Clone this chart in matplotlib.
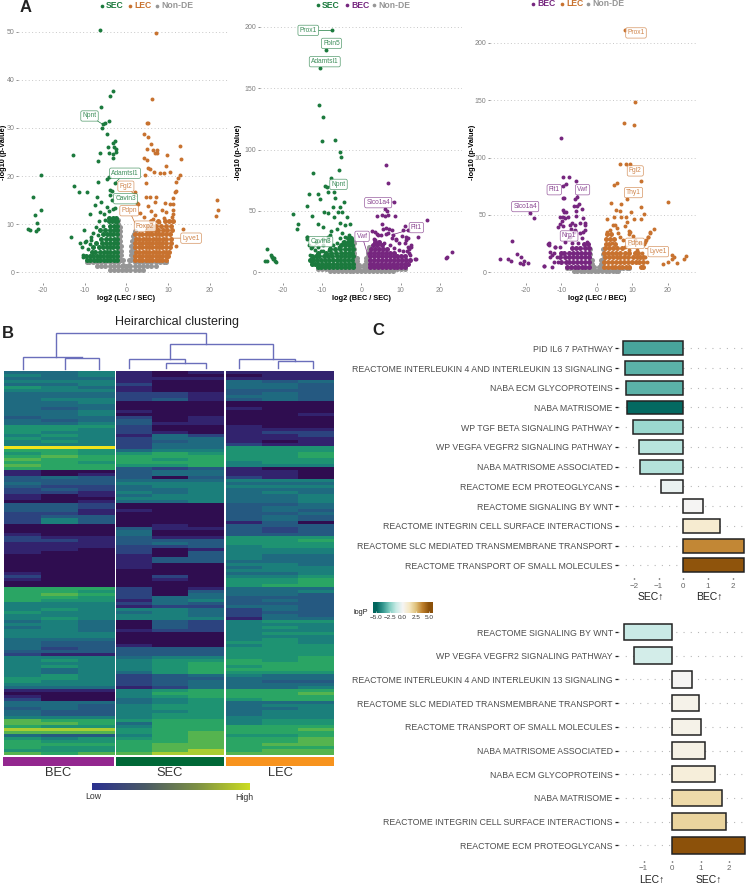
import numpy as np
import matplotlib
matplotlib.use("Agg")
import matplotlib.pyplot as plt
from matplotlib.colors import LinearSegmentedColormap

plt.rcParams['font.family'] = ['Liberation Sans', 'DejaVu Sans']

W, H = 747, 885
GREEN, ORANGE, PURPLE, GREY = '#1b7a3d', '#c8722f', '#76267f', '#969696'

# ---------- panel A, points (log2 fc, -log10 p)
sec1_sparse = [(-6.2,50.3),(-3.3,37.7),(-3.8,36.7),(-6.1,34.4),(-4.1,31.5),(-5.1,31.1),(-5.6,30.9),(-5.9,29.9),
    (-4.5,28.8),(-2.8,27.3),(-3.3,26.8),(-4.4,26.1),(-3,26.1),(-2.5,25.6),(-4.1,24.7),(-3.3,24.6),(-2.5,25),
    (-6.3,24.7),(-12.8,24.3),(-6.7,23.1),(-3.1,23.7),(-20.4,20.2),(-4.1,19.9),(-4.7,19.5),(-2.7,18.6),(-6.8,18.7),
    (-12.5,18),(-11.2,16.6),(-9.3,16.6),(-3.9,17.1),(-3.5,16.8),(-3.8,16),(-6.9,15.7),(-22.3,15.7),(-3.5,15),
    (-7.5,13.9),(-6.1,14.6),(-20.3,13),(-2.7,13.4),(-3.1,13.2),(-21.9,11.9),(-8.7,12.2),(-6.3,12.6),(-4.2,12.7),(-21.4,10.2),
    (-21.2,8.9),(-21.6,8.6),(-23.4,8.9),(-23.1,8.8),(-10.1,8.8),(-13.2,7.3),(-11.1,6),(-10,6.4),(-9.6,6.6),
    (-10.5,5.2),(-8.5,7.4),(-8.4,6.7),(-10.4,3.6),(-10.3,3.1),(-6.6,10.6),(-7.2,9.4),(-5.2,10.9),(-5.6,9.6),
    (-8.6,5.9),(-7.9,8.2),(-6.8,7.7),(-9.2,4.9),(-5.4,12.1),(-4.7,13.6)]
sec1_rows = {2.6: [-2.2,-3,-3.8,-4.6,-5.4,-6.2,-7,-7.8,-8.6,-9.3],
    3.4: [-2.2,-3.1,-3.9,-4.7,-5.5,-6.3,-7.1,-7.9,-8.7,-9.6],
    4.3: [-2.2,-3,-3.8,-4.6,-5.4,-6.4,-7.4,-8.3],
    5.2: [-2.3,-3.1,-3.9,-4.7,-5.5,-6.6,-8],
    6.1: [-2.2,-3,-3.8,-4.8,-5.8,-7.2],
    7: [-2.2,-3,-3.8,-4.8,-6.1],
    7.9: [-2.3,-3.1,-3.8,-4.6,-5.6],
    8.8: [-2.2,-3,-3.9,-5,-6.2],
    9.7: [-2.2,-3,-4],
    10.6: [-2.3,-2.8,-3.4,-4.1],
    11.3: [-2.4,-3.3,-4.2]}
lec1_sparse = [(7.1,49.8),(6.1,36),(5,31.1),(5.3,31),(4.3,28.7),(5.2,28.1),(5.9,26.7),(4.9,25.7),(6.5,25.4),(7.4,25.4),
    (6.9,24.8),(7.3,24.9),(12.8,26.3),(9.7,24.4),(13.1,23.5),(4.2,23.7),(4.9,23.4),(9.4,22),(5.3,21.6),(5.7,21.5),
    (6.6,20.8),(8.1,20.6),(8.9,20.7),(10.5,20.8),(4.5,20.2),(12.8,20.2),(12.3,19.7),(12,18.7),(4.6,18.6),(2.2,16.6),
    (11.8,17),(11.6,16.6),(5.7,15.7),(7,15.6),(4.6,15.6),(11.1,15.4),(2.9,14.3),(6.9,14.6),(9.3,14.5),(11.2,14.2),
    (5.3,13.7),(5.8,12.8),(8.5,13),(9.4,12.6),(11.1,13),(6.9,11.9),(3.3,12.4),(11.2,12.1),(11,11.4),(10.9,10.7),
    (21.6,15),(22,13),(21.4,11.7),(13.6,8.9),(12,5.4),(4.3,11.5),(6.4,11),(8.9,11.2),(2.6,14.4),(10.5,14.1),(7.9,10.4)]
lec1_rows = {2.6: [2.2,3,3.8,4.6,5.4,6.2,7,7.8,8.6,9.6],
    3.4: [2.2,3,3.8,4.6,5.4,6.2,7,7.8,8.6,9.4,10],
    4.3: [2.3,3.1,3.9,4.7,5.5,6.3,7.1,7.9,8.7,9.5,10.2],
    5.2: [2.2,3,3.8,4.6,5.4,6.2,7,7.8,8.6,9.4,10.5],
    6.1: [2.2,3,3.8,4.6,5.4,6.2,7,7.8,8.6,9.5,10.6],
    7: [2.3,3.1,3.9,4.7,5.5,6.3,7.1,7.9,8.7,9.6,10.8],
    7.9: [2.2,3,3.8,4.6,5.4,6.2,7,7.8,8.6,9.5,10.4],
    8.8: [5,5.9,6.8,7.7,8.8,9.8,11],
    9.7: [5.1,6.1,7.2,8.4,9.6,10.8],
    10.6: [6,7.7,9.3,10.3,11.2]}
grey1_rows = {2.2: [-9.5,-9,-8,-7,-6,-5,-4,-3,-2,2,3,4,5,6,7,8,9,9.5],
    1.3: [-7,-6,-5,-4,-3,-2,-1,0,1,2,3,4,5,6,7],
    .4: [-4,-3,-2,-1,0,1,2,3,4]}
grey1_wing = [(-1.8,3),(-1.8,4),(-1.8,5),(-1.8,6),(-1.8,7),(-1.8,8),(-1.8,9),(-1.9,10),(-2,10.8),(-1.2,2.5),(-1.2,3.5),(-1.2,4.5),(-1.2,5.5),
    (-1.4,6.5),(-1.4,7.5),(-1.5,8.5),(-1.5,9.5),(-.7,1.5),(-.7,2.5),(1.8,3),(1.8,4),(1.8,5),(1.8,6),(1.9,7),(1.9,8),(2,8.5),(1.2,2.5),(1.2,3.5),(1.2,4.5),(1.2,5.5),
    (1.4,6.5),(1.5,7.5),(.7,1.5),(.7,2.5),(0,.6)]

sec2_sparse = [(-7.5,197),(-8.9,181),(-10.6,166),(-10.8,136),(-9.8,126.7),(-9.9,107),(-6.8,107.7),(-5.4,98),(-5.1,94),
    (-5.8,83.6),(-12.4,80.9),(-7.6,77),(-9.3,70.6),(-8.7,69.7),(-8.4,65),(-7,65),(-13.2,64),(-11.1,64),(-10.6,59.4),
    (-6.6,60.8),(-4.5,57),(-13.8,54.3),(-7.1,53.5),(-5.3,52.9),(-9.4,48.8),(-8.6,48),(-5.9,49),(-4.9,48.8),(-17.4,47.2),
    (-12.5,45.6),(-6.9,45.3),(-3.7,44.8),(-16,39.4),(-16.3,35),(-11.1,39.4),(-9.7,37.2),(-7.7,33.6),(-5.4,39.9),(-4.2,38.5),
    (-2.9,39.4),(-13.9,29),(-13.7,27.4),(-23.9,19.3),(-23,14.1),(-22.6,12.2),(-22.4,10.6),(-22,9.2),(-21.7,8.4),(-24.4,9.2),
    (-24.1,9),(-22.8,12.8),(-22.2,11.5),(-12.6,6.8),(-6.1,35),(-8.4,29),(-11.5,25),(-13.2,22),(-12.8,20),(-9.8,27),
    (-4.9,31.8),(-4.1,29),(-3.2,30.5),(-5.4,27.7),(-2.4,26.4),(-3.2,25),(-4.6,25),(-6.3,23.7),(-5.6,21),(-7.1,22.3),
    (-7.9,30.6),(-8.7,26.4),(-9.7,22.3),(-10.9,21),(-11.8,18.3),(-12.6,21),(-13,14),(-12.6,7.3),(-12.2,11.5),(-10.2,17),
    (-7.9,19.6),(-9.7,17),(-8.3,18.3),(-13.9,28.5)]
sec2_rows = {4: [-2.2,-3.2,-4.2,-5.2,-6.2,-7.2,-8.2,-9.2,-10.2,-11],
    7: [-2.2,-3.1,-4.1,-5.1,-6.1,-7.1,-8.1,-9.1,-10.1,-11.1,-11.9,-12.5],
    10: [-2.3,-3.3,-4.3,-5.3,-6.3,-7.3,-8.3,-9.3,-10.3,-11.3,-12.2,-13],
    13: [-2.2,-3.2,-4.2,-5.2,-6.2,-7.4,-8.4,-9.6,-10.8,-11.6,-12.5],
    16: [-2.3,-3.2,-4.2,-5.2,-6.4,-7.6,-9,-11],
    19: [-2.2,-3.2,-4.2,-5.3,-6.6,-8],
    22: [-2.3,-3.2,-4.2,-5.2],
    25: [-2.5,-3.4,-4.3],
    28: [-2.6,-3.5]}
bec2_sparse = [(6.4,87.7),(6.7,73),(8.2,57.3),(6.1,51.3),(6.5,50.2),(6.7,46.7),(6,46.1),(4,45.6),(5.3,46.7),(8.6,45.9),
    (16.7,42.3),(5.3,39),(11,38),(6.4,35.8),(7.1,35),(7.7,34.5),(8.1,30.4),(12,34.5),(14.5,29),(10.7,34.5),(4,31.5),
    (2.8,33.7),(3.3,27),(21.9,12.2),(21.6,11.4),(23.2,16.3),(13.6,10.9),(12.1,15.5),(12.6,21),(12.2,19),(11.6,17),
    (11.9,28),(11.5,26),(8.9,27),(9.7,24),(6.2,31),(5,30),
    (3.5,33),(4.3,30),(5.6,35),(6.9,31.8),(7.7,27.7),(8.9,26.4),(10.3,29.2),(11.1,23.7),(11.9,21),(12.7,22.3),(11.5,29),
    (8.3,19.6),(9.5,18.3),(10.7,17),(12.4,14.2),(13.8,10.5),(5.9,23.7),(4.6,25),(7.2,22.3),(3.5,26.4)]
bec2_rows = {4: [2.2,3.2,4.2,5.2,6.2,7.2,8.2,9.2,10.2,11],
    7: [2.2,3.1,4.1,5.1,6.1,7.1,8.1,9.1,10.1,11.1,12],
    10: [2.3,3.3,4.3,5.3,6.3,7.3,8.3,9.3,10.3,11.3,12.5],
    13: [2.2,3.2,4.2,5.2,6.2,7.2,8.2,9.2,10.1,11],
    16: [2.3,3.2,4.2,5.2,6.2,7.3,8.2],
    19: [2.5,3.6,4.5,5.6,6.5],
    22: [3,4.1,5.2],
    25: [3.5,4.5]}
grey2_rows = {3: [-11,-10,-9,-8,-7,-6,-5,-4,-3,-2,2,3,4,5,6,7,8,9,10,11],
    1: [-8,-7,-6,-5,-4,-3,-2,-1,0,1,2,3,4,5,6,7,8]}
grey2_wing = [(-1.8,4),(-1.8,7),(-1.8,10),(-1.8,13),(-1.8,16),(-1.9,19),(-2,21),(-1.9,24),(-1.2,3),(-1.2,6),(-1.2,9),(-1.2,12),(-.7,2),(-.7,4),(-.7,6),
    (1.8,4),(1.8,7),(1.8,10),(1.8,13),(1.8,16),(1.9,19),(2,21),(1.2,3),(1.2,6),(1.2,9),(1.2,12),(.7,2),(.7,4),(.7,6)]

bec3_sparse = [(-10.2,116.9),(-9.6,82.8),(-7.8,82.8),(-8.8,76.7),(-9.4,75.6),(-5.8,79.4),(-5.6,66),(-6.1,64),(-9.6,64.8),
    (-9.2,64.6),(-5,59.6),(-6.4,58),(-5.5,58),(-4.2,55),(-5.8,53.8),(-9.4,54.4),(-8.8,52.9),(-9.2,52.4),(-18.9,51.5),
    (-17.7,47),(-8,48.5),(-9.4,48.5),(-8.9,47),(-10.5,48),(-5.8,49.4),(-3.8,47),(-9.9,45),(-10.8,39.8),(-10.4,42),
    (-7.5,41),(-6.1,37),(-7.3,38),(-6,41),(-3.3,42.7),(-4.7,34),(-24,27.3),(-13.8,24.7),(-22.6,16),(-21.4,13.7),(-27.4,11.9),
    (-25,11.9),(-24.2,10.2),(-20.4,10.2),(-19.4,8.4),(-21.7,7.8),(-20.7,7),(-14.9,5.8),(-12.7,5),(-13.2,13),(-12.7,15),
    (-11.8,21.8),(-13.4,23.5),(-3.9,35),(-6.5,35),
    (-9.4,40),(-7.1,42.7),(-4.7,42.7),(-3.3,41.3),(-3.3,37),(-7.5,31),(-4.2,29.6),(-2.8,26.7),(-5.2,25.2),(-7.1,25.2),
    (-8.9,26.7),(-10.3,22),(-11.8,22),(-13.6,25.2),(-13.2,18),(-12.2,16.7),(-11.3,13.7),(-12.2,9.3),(-10.8,9.3),(-15,5.8)]
bec3_rows = {5: [-2.2,-3.2,-4.2,-5.2,-6.2,-7.2,-8.5],
    9: [-2.2,-3.3,-4.4,-5.5,-6.6,-7.7,-8.8,-10],
    13: [-2.3,-3.4,-4.5,-5.6,-6.7,-7.8,-8.9,-10.5],
    17: [-2.2,-3.3,-4.4,-5.5,-6.7,-7.9,-9.2,-10.2],
    21: [-2.3,-3.4,-4.6,-5.8,-7.1],
    25: [-2.5,-3.6]}
lec3_sparse = [(8,211),(10.7,148.8),(7.7,130),(10.6,128.5),(6.5,94),(8.2,94.8),(9.5,94.5),(12.5,80),(5.7,78),(5,76.5),
    (8.6,64),(20,61),(4.1,60.8),(6.9,59.6),(12.4,57),(5.4,54.4),(6.6,53.2),(9.6,52.9),(13.4,51),(10.6,46.2),(12.5,46.5),
    (3,46.5),(5,48),(7,48),(8.4,48.4),(4.7,41),(16.2,38),(9,36),(8,40),(21.4,15),(21.2,12),(25.1,14),(24.7,11.6),
    (22.6,8.4),(20.2,9.3),(18.6,7),(21.8,13),(15,34),(14.5,31),(14,28),(13.5,25),(8.7,44),(9.2,33),(10.2,32),
    (2.8,35.4),(3.8,36.9),(5.2,41.3),(5.6,38.3),(6.1,34),(6.6,31),(7.5,28),(9.4,35.4),(10.8,28),(12.2,25.2),(13.6,26.7),
    (14.6,31),(15,35.4),(11.3,19.6),(12.7,16.7),(13.6,13.7),(14.1,9.3),(4.2,25.2),(9,19.6),(8.1,22)]
lec3_rows = {5: [2.2,3.2,4.2,5.2,6.2,7.2,8.2,9,12.6,13.2],
    9: [2.2,3.3,4.4,5.5,6.6,7.7,8.8,10,11.1,12,13],
    13: [2.3,3.4,4.5,5.6,6.7,7.8,8.9,10.3,11.4,12.2,13],
    17: [2.2,3.3,4.4,5.5,6.7,7.9,9,10.8,11.8],
    21: [2.3,3.4,4.6,5.8,7.1],
    25: [2.5,3.6,5.1],
    29: [2.6,3.8,5],
    33: [3,4.1]}
grey3_rows = {4: [-8.5,-7.5,-6.5,-5.5,-4.5,-3.5,-2.5,2.5,3.5,4.5,5.5,6.5,7.5,8.5,9],
    1: [-6.5,-5.5,-4.5,-3.5,-2.5,-1.5,-.5,.5,1.5,2.5,3.5,4.5,5.5,6]}
grey3_wing = [(-1.8,4),(-1.8,8),(-1.8,12),(-1.8,16),(-1.9,20),(-1.2,3),(-1.2,7),(-1.2,11),(-.7,2),(-.7,5),(1.8,4),(1.8,8),(1.8,12),(1.8,16),(1.9,20),(1.2,3),(1.2,7),(1.2,11),(.7,2),(.7,5)]

labels1 = [('Npnt',-8.8,32.5,-5.7,30.8,GREEN),('Adamtsl1',-.3,20.6,-2.7,18.6,GREEN),('Fgl2',-.1,17.9,2.5,15.7,ORANGE),
    ('Cavin3',-.2,15.3,-2.7,16,GREEN),('Pdpn',.7,12.8,2.1,10.2,ORANGE),('Foxp2',4.5,9.6,2.1,10.3,ORANGE),('Lyve1',15.5,7.1,10.4,7.1,ORANGE)]
labels2 = [('Prox1',-13.5,197,-7.5,197,GREEN),('Fbln5',-7.6,186.4,-8.9,181,GREEN),('Adamtsl1',-9.3,171.5,-10.6,166,GREEN),
    ('Npnt',-5.8,71.6,-8.7,69.7,GREEN),('Cavin3',-10.3,25,-12.2,21,GREEN),('Slco1a4',4.3,56.7,8.2,57.3,PURPLE),
    ('Vwf',.2,29.3,1.8,12.7,PURPLE),('Flt1',14,36.4,7.7,30.4,PURPLE)]
labels3 = [('Prox1',11.1,208.7,8,211,ORANGE),('Fgl2',10.9,88.4,9.4,94.5,ORANGE),('Thy1',10.4,69.5,8.6,64,ORANGE),
    ('Pdpn',10.8,25.3,8.5,22.4,ORANGE),('Lyve1',17.4,18,13.7,21,ORANGE),('Flt1',-12,72,-8.8,76.7,PURPLE),
    ('Vwf',-4,72,-5.6,66,PURPLE),('Slco1a4',-20.2,57.3,-18.9,51.5,PURPLE),('Nrp1',-7.8,31.7,-8.4,28,PURPLE)]

# ---------- panel B, heatmap rows (hex digit = level, one char per replicate)
bec_rows = ["445","545","444","555","445","654","555","444",
    "444","455","445","444","434","445","445","344",
    "434","445","666","665","655","565","655","565",
    "555","aaa","776","676","787","877","776","877",
    "777","100","101","343","333","433","322","232",
    "221","101","100","001","332","332","331","221",
    "233","253","253","000","000","000","100","211",
    "221","111","111","110","100","000","000","000",
    "000","000","000","100","200","100","000","000",
    "777","776","787","776","766","555",
    "555","565","655","555","565","454","554","454",
    "554","555","555","444","433","433","423","333",
    "211","555","565","555","565","545","545","565",
    "665","655","555","444","111","000","100","200",
    "444","443","343","433","433","555","877","887",
    "766","999","888","433","656","766","777","766",
    "666","878"]
sec_rows = ["101","100","111","100","200","100","100","221",
    "221","231","000","000","000","100","000","201",
    "301","311","200","200","210","142","244","234",
    "244","244","455","676","777","767","777","667",
    "323","344","344","303","444","555","455","445",
    "545","455","555","445","000","000","100","000",
    "000","000","000","010","311","400","400","311",
    "333","343","223","201","203","103","133","133",
    "100","100","000","000","020","010","000","000",
    "201","203","204","244","145","243",
    "122","554","454","554","555","032","032","032",
    "122","000","000","000","000","100","333","333",
    "333","455","566","567","567","567","467","234",
    "233","234","234","124","567","577","567","456",
    "456","566","566","556","566","566","677","477",
    "577","677","678","578","678","778","788","788",
    "789","899"]
lec_rows = ["111","011","111","434","443","443","333","343",
    "443","343","000","000","100","000","001","000",
    "000","000","100","111","122","112","111","101",
    "211","666","666","667","667","666","566","555",
    "100","110","110","210","555","444","555","444",
    "454","445","445","445","334","344","343","334",
    "343","343","130","333","323","323","333","666",
    "667","666","566","555","555","544","544","444",
    "554","455","555","445","556","667","667","677",
    "444","445","443","333","343","333",
    "443","243","233","243","144","566","555","565",
    "555","566","555","565","665","566","666","666",
    "666","667","767","777","677","777","666","544",
    "444","433","444","445","777","778","777","677",
    "444","455","445","455","455","555","566","566",
    "777","778","777","667","778","778","788","777",
    "788","888"]
group_names = ['BEC', 'SEC', 'LEC']
group_colors = ['#93278f', '#006837', '#f7931e']

# ---------- panel C
top_terms = ['PID IL6 7 PATHWAY','REACTOME INTERLEUKIN 4 AND INTERLEUKIN 13 SIGNALING','NABA ECM GLYCOPROTEINS',
    'NABA MATRISOME','WP TGF BETA SIGNALING PATHWAY','WP VEGFA VEGFR2 SIGNALING PATHWAY','NABA MATRISOME ASSOCIATED',
    'REACTOME ECM PROTEOGLYCANS','REACTOME SIGNALING BY WNT','REACTOME INTEGRIN CELL SURFACE INTERACTIONS',
    'REACTOME SLC MEDIATED TRANSMEMBRANE TRANSPORT','REACTOME TRANSPORT OF SMALL MOLECULES']
top_nes = [-2.43,-2.35,-2.33,-2.28,-2.03,-1.8,-1.75,-.92,.78,1.47,2.45,2.45]
top_logp = [-3.4,-3.1,-3.1,-4.9,-2,-1.5,-1.6,-.3,.05,.9,3.6,4.9]
bottom_terms = ['REACTOME SIGNALING BY WNT','WP VEGFA VEGFR2 SIGNALING PATHWAY','REACTOME INTERLEUKIN 4 AND INTERLEUKIN 13 SIGNALING',
    'REACTOME SLC MEDIATED TRANSMEMBRANE TRANSPORT','REACTOME TRANSPORT OF SMALL MOLECULES','NABA MATRISOME ASSOCIATED',
    'NABA ECM GLYCOPROTEINS','NABA MATRISOME','REACTOME INTEGRIN CELL SURFACE INTERACTIONS','REACTOME ECM PROTEOGLYCANS']
bottom_nes = [-1.7,-1.35,.71,.96,1,1.17,1.52,1.77,1.88,2.56]
bottom_logp = [-1.2,-.9,.05,.3,.35,.4,.7,1.7,1.9,5]

fig = plt.figure(figsize=(W/100, H/100), dpi=100)

def px_axes(l, t, r, b):
    return fig.add_axes([l/W, 1-b/H, (r-l)/W, (b-t)/H])

def px_text(x, y, s, **kw):
    kw.setdefault('ha', 'center')
    kw.setdefault('va', 'center')
    fig.text(x/W, 1-y/H, s, **kw)

def from_rows(rows):
    return [(x, y) for y, xs in rows.items() for x in xs]

def volcano(box, x0, sx, y0, sy, yticks, xlab, neg, pos, grey, labels):
    l, t, r, b = box
    ax = px_axes(l, t, r, b)
    ax.set_xlim((l-x0)/sx, (r-x0)/sx)
    ax.set_ylim((y0-b)/sy, (y0-t)/sy)
    g = np.array(grey).T
    ax.scatter(g[0], g[1], s=13, color=GREY, linewidths=0, zorder=2)
    for sparse, rows, col in (neg, pos):
        p = np.array(from_rows(rows)).T
        ax.scatter(p[0], p[1], s=13, color=col, linewidths=0, zorder=3)
        p = np.array(sparse).T
        ax.scatter(p[0], p[1], s=8, color=col, linewidths=0, zorder=3)
    for sp in ax.spines.values():
        sp.set_visible(False)
    ax.set_yticks(yticks)
    ax.set_xticks([-20, -10, 0, 10, 20])
    ax.set_xticklabels(['-20', '-10', '0', '10', '20'])
    ax.tick_params(labelsize=5, colors='#808080', length=1.2, width=.6, pad=1.5)
    ax.grid(axis='y', color='#c8c8c8', lw=.7, ls=(0, (1, 2.5)))
    ax.set_axisbelow(True)
    ax.patch.set_alpha(0)
    for name, lx, ly, tx, ty, col in labels:
        ax.annotate(name, xy=(tx, ty), xytext=(lx, ly), fontsize=4.8, color=col, alpha=.85, ha='center', va='center', zorder=5,
                    bbox=dict(boxstyle='round,pad=0.25', fc='white', ec=col, lw=.5, alpha=.75),
                    arrowprops=dict(arrowstyle='-', color=col, lw=.5, shrinkA=0, shrinkB=0))
    px_text(x0, 298, xlab, fontsize=5.3, fontweight='bold')
    return ax

volcano((18, 18, 228, 283), 126.3, 4.18, 272.3, 4.81, [0, 10, 20, 30, 40, 50], 'log2 (LEC / SEC)',
        (sec1_sparse, sec1_rows, GREEN), (lec1_sparse, lec1_rows, ORANGE),
        from_rows(grey1_rows) + grey1_wing, labels1)
volcano((260, 15, 462, 283), 361.3, 3.93, 272.3, 1.228, [0, 50, 100, 150, 200], 'log2 (BEC / SEC)',
        (sec2_sparse, sec2_rows, GREEN), (bec2_sparse, bec2_rows, PURPLE),
        from_rows(grey2_rows) + grey2_wing, labels2)
volcano((490, 15, 696, 283), 596.7, 3.54, 272.3, 1.147, [0, 50, 100, 150, 200], 'log2 (LEC / BEC)',
        (bec3_sparse, bec3_rows, PURPLE), (lec3_sparse, lec3_rows, ORANGE),
        from_rows(grey3_rows) + grey3_wing, labels3)

for x in (3.5, 238, 472):
    px_text(x, 152, '-log10 (p-Value)', rotation=90, fontsize=5.3, fontweight='bold')

# legends on top of the volcano plots
legend_rows = [(6, [(102, 'SEC', GREEN), (130, 'LEC', ORANGE), (157, 'Non-DE', GREY)]),
               (5, [(318, 'SEC', GREEN), (347, 'BEC', PURPLE), (374, 'Non-DE', GREY)]),
               (4, [(533, 'BEC', PURPLE), (562, 'LEC', ORANGE), (588, 'Non-DE', GREY)])]
leg = fig.add_axes([0, 0, 1, 1])
leg.set_xlim(0, W)
leg.set_ylim(H, 0)
leg.axis('off')
for y, items in legend_rows:
    for x, name, col in items:
        leg.scatter([x], [y], s=7, color=col, linewidths=0)
        leg.text(x+4, y, name, color=col, fontsize=6.2, fontweight='bold', ha='left', va='center')

px_text(25.5, 7, 'A', fontsize=12, fontweight='bold', color='#222222')
px_text(8, 333.5, 'B', fontsize=12, fontweight='bold', color='#222222')
px_text(378.5, 330.5, 'C', fontsize=12, fontweight='bold', color='#222222')

# ---------- heatmap
heat_cmap = LinearSegmentedColormap.from_list('heat', ['#2f0d50', '#33246f', '#2c437f', '#255a82', '#1f6a80',
    '#1b7f7c', '#1f9472', '#2aa565', '#55b44f', '#a9cd33', '#f0e31c'])
heat_boxes = [(4, 114), (116, 224), (226, 334)]
bar_boxes = [(3, 114), (116, 224), (226, 334)]
for (l, r), rows in zip(heat_boxes, (bec_rows, sec_rows, lec_rows)):
    ax = px_axes(l, 371, r, 755)
    vals = np.array([[int(c, 16) for c in row] for row in rows])
    ax.imshow(vals, cmap=heat_cmap, vmin=0, vmax=10, aspect='auto', interpolation='nearest')
    ax.axis('off')
for (l, r), name, col in zip(bar_boxes, group_names, group_colors):
    ax = px_axes(l, 757, r, 766)
    ax.axhspan(0, 1, color=col)
    ax.set_xlim(0, 1)
    ax.set_ylim(0, 1)
    ax.axis('off')
    px_text((l+r)/2, 773, name, fontsize=9.3, color='#333333')

cb = px_axes(92, 783, 250, 790)
low_high = LinearSegmentedColormap.from_list('lh', ['#2b3190', '#4a5a66', '#7d9045', '#cbdc22'])
cb.imshow(np.array([np.linspace(0, 1, 200)]), cmap=low_high, aspect='auto')
cb.axis('off')
px_text(93, 796.5, 'Low', fontsize=6.3, color='#333333')
px_text(244, 797, 'High', fontsize=6.3, color='#333333')
px_text(177, 322, 'Heirarchical clustering', fontsize=9, color='#222222')

# dendrogram links: left x, right x, merge height, drop of left and right leg
dendro = px_axes(0, 325, 340, 371)
dendro.set_xlim(0, 340)
dendro.set_ylim(371, 325)
dendro.axis('off')
BLUE = '#6a6ebb'
tree_links = [(23, 81.5, 356.7, 369, 356.7), (65, 98.5, 357.7, 368.5, 368.5),
    (129.3, 185.3, 359, 368, 363.3), (165.7, 205.7, 363.3, 367.5, 367.5),
    (239.3, 295, 359.3, 367.5, 361.3), (278.3, 313.3, 361.3, 367.5, 367.5),
    (56, 205.7, 333.3, 356.7, 344.3), (170, 273.3, 344.3, 359, 359.3)]
for a, b, h, leg_a, leg_b in tree_links:
    dendro.plot([a, a, b, b], [leg_a, h, h, leg_b], color=BLUE, lw=1, solid_joinstyle='miter')
dendro.patch.set_alpha(0)

# ---------- enrichment bars
cols = ['#01665e', '#35978f', '#80cdc1', '#c7eae5', '#f5f5f5', '#f6e8c3', '#dfc27d', '#bf812d', '#8c510a']
logp_cmap = LinearSegmentedColormap.from_list('logp', cols)

def enrich(box, x0, sx, y0, sy, terms, nes, logp, xticks, xticklabels):
    l, t, r, b = box
    ax = px_axes(l, t, r, b)
    ax.set_xlim((l-x0)/sx, (r-x0)/sx)
    ax.set_ylim((b-y0)/sy, (t-y0)/sy)
    pos = np.arange(len(terms))
    colors = logp_cmap((np.array(logp)+5)/10)
    ax.barh(pos, nes, height=.7, color=colors, edgecolor='#222222', linewidth=1.1, zorder=3)
    ax.set_yticks(pos)
    ax.set_yticklabels(terms)
    ax.set_xticks(xticks)
    ax.set_xticklabels(xticklabels)
    ax.tick_params(axis='y', labelsize=6.33, labelcolor='#4d4d4d', color='#222222', length=2.2, width=.9, pad=1.5)
    ax.tick_params(axis='x', labelsize=5.8, labelcolor='#666666', color='#222222', length=1, width=1, pad=2.5)
    ax.grid(axis='y', color='#b8b8b8', lw=.8, ls=(0, (1, 5.5)))
    ax.set_axisbelow(True)
    for sp in ax.spines.values():
        sp.set_visible(False)

enrich((618, 338, 747, 578), 683.3, 24.7, 348.3, 19.73, top_terms, top_nes, top_logp, [-2, -1, 0, 1, 2], ['\u22122', '\u22121', '0', '1', '2'])
enrich((618, 620, 747, 860.5), 672, 28.5, 632, 23.7, bottom_terms, bottom_nes, bottom_logp, [-1, 0, 1, 2], ['\u22121', '0', '1', '2'])

px_text(651, 597, 'SEC\u2191', fontsize=7.5, color='#222222')
px_text(709, 597, 'BEC\u2191', fontsize=7.5, color='#222222')
px_text(651.5, 880, 'LEC\u2191', fontsize=7.5, color='#222222')
px_text(708.5, 880, 'SEC\u2191', fontsize=7.5, color='#222222')

# logP colour bar
lg = px_axes(373.3, 601.7, 432.7, 613.3)
lg.imshow(np.array([np.linspace(-5.6, 5.7, 200)]), cmap=logp_cmap, vmin=-5, vmax=5, aspect='auto', extent=(-5.6, 5.7, 0, 1))
lg.set_xticks([-5, -2.5, 0, 2.5, 5])
lg.set_xticklabels(['\u22125.0', '\u22122.5', '0.0', '2.5', '5.0'])
lg.set_yticks([])
lg.tick_params(axis='x', labelsize=4.6, labelcolor='#333333', color='white', length=1.2, width=.4, direction='in', pad=1.5)
for sp in lg.spines.values():
    sp.set_visible(False)
px_text(360.5, 612.5, 'logP', fontsize=5.3, color='#222222')

fig.savefig('out.png', dpi=100)
